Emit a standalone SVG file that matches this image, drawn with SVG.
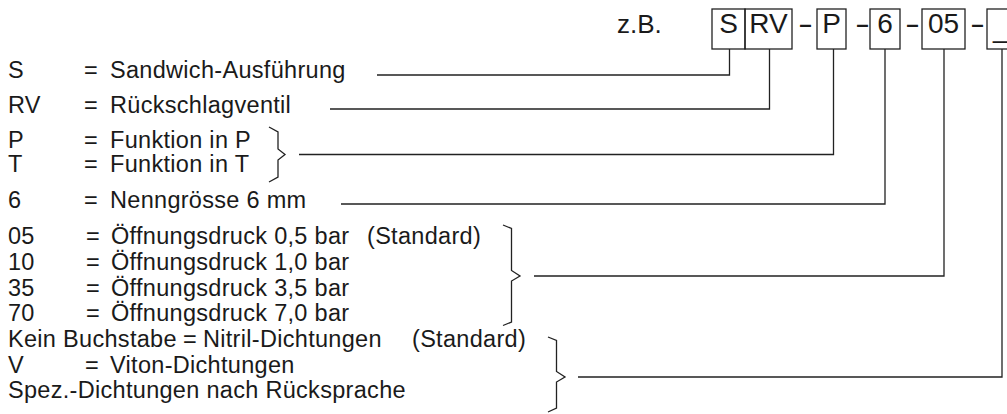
<svg xmlns="http://www.w3.org/2000/svg" width="1007" height="414" viewBox="0 0 1007 414">
<style>
  .t { font-family: "Liberation Sans", Arial, sans-serif; font-size: 23.5px; letter-spacing: 0.3px; fill: #1a1a1a; }
  .b { font-family: "Liberation Sans", Arial, sans-serif; font-size: 28px; fill: #1a1a1a; text-anchor: middle; }
  .d { font-family: "Liberation Sans", Arial, sans-serif; font-size: 28px; fill: #1a1a1a; }
  .zb { font-family: "Liberation Sans", Arial, sans-serif; font-size: 26px; fill: #1a1a1a; }
  .box { fill: none; stroke: #222; stroke-width: 1.3; }
  .ln { fill: none; stroke: #222; stroke-width: 1.3; }
</style>
<rect width="1007" height="414" fill="#fff"/>

<text class="zb" x="617" y="33">z.B.</text>

<g id="code">
  <g id="box-S"><rect class="box" x="712" y="9" width="33" height="40"/><text class="b" x="728.5" y="33">S</text></g>
  <g id="box-RV"><rect class="box" x="745" y="9" width="47" height="40"/><text class="b" x="768.5" y="33">RV</text></g>
  <text class="d" x="798" y="33" textLength="15" lengthAdjust="spacingAndGlyphs">-</text>
  <g id="box-P"><rect class="box" x="817" y="9" width="29" height="40"/><text class="b" x="831.5" y="33">P</text></g>
  <text class="d" x="855" y="33" textLength="15" lengthAdjust="spacingAndGlyphs">-</text>
  <g id="box-6"><rect class="box" x="870" y="9" width="30" height="40"/><text class="b" x="885" y="33">6</text></g>
  <text class="d" x="905" y="33" textLength="15" lengthAdjust="spacingAndGlyphs">-</text>
  <g id="box-05"><rect class="box" x="922" y="9" width="43" height="40"/><text class="b" x="943.5" y="33">05</text></g>
  <text class="d" x="970" y="33" textLength="15" lengthAdjust="spacingAndGlyphs">-</text>
  <g id="box-seal"><rect class="box" x="987" y="9" width="30" height="40"/><text class="d" x="993" y="37">_</text></g>
</g>

<g id="legend-S"><text class="t" y="78"><tspan x="8">S</tspan><tspan x="84">=</tspan><tspan x="110">Sandwich-Ausführung</tspan></text></g>
<g id="legend-RV"><text class="t" y="113"><tspan x="8">RV</tspan><tspan x="84">=</tspan><tspan x="110">Rückschlagventil</tspan></text></g>
<g id="legend-PT">
  <text class="t" y="148"><tspan x="8">P</tspan><tspan x="84">=</tspan><tspan x="110">Funktion in P</tspan></text>
  <text class="t" y="172"><tspan x="8">T</tspan><tspan x="84">=</tspan><tspan x="110">Funktion in T</tspan></text>
</g>
<g id="legend-6"><text class="t" y="208"><tspan x="8">6</tspan><tspan x="84">=</tspan><tspan x="110">Nenngrösse 6 mm</tspan></text></g>
<g id="legend-05">
  <text class="t" y="244"><tspan x="8">05</tspan><tspan x="86">=</tspan><tspan x="111">Öffnungsdruck 0,5 bar</tspan><tspan x="367">(Standard)</tspan></text>
  <text class="t" y="270"><tspan x="8">10</tspan><tspan x="86">=</tspan><tspan x="111">Öffnungsdruck 1,0 bar</tspan></text>
  <text class="t" y="296"><tspan x="8">35</tspan><tspan x="86">=</tspan><tspan x="111">Öffnungsdruck 3,5 bar</tspan></text>
  <text class="t" y="321"><tspan x="8">70</tspan><tspan x="86">=</tspan><tspan x="111">Öffnungsdruck 7,0 bar</tspan></text>
</g>
<g id="legend-seal">
  <text class="t" y="347"><tspan x="8">Kein Buchstabe</tspan><tspan x="183">=</tspan><tspan x="203">Nitril-Dichtungen</tspan><tspan x="412">(Standard)</tspan></text>
  <text class="t" y="373"><tspan x="8">V</tspan><tspan x="85">=</tspan><tspan x="110">Viton-Dichtungen</tspan></text>
  <text class="t" y="398"><tspan x="8">Spez.-Dichtungen nach Rücksprache</tspan></text>
</g>

<g id="connectors">
  <path class="ln" d="M377,75 H729.5 V49"/>
  <path class="ln" d="M330,109 H769.5 V49"/>
  <path class="ln" d="M269,127 L278,132 V149 L285,154.5 L278,160 V177 L269,182"/>
  <path class="ln" d="M299,154.5 H833.5 V49"/>
  <path class="ln" d="M341,204 H885 V49"/>
  <path class="ln" d="M503,225 L511.5,228.5 V270.5 L520,276 L511.5,281 V322 L503,325.5"/>
  <path class="ln" d="M534,276 H944 V49"/>
  <path class="ln" d="M548,337 L556.5,340.5 V371.5 L565,377 L556.5,382 V408 L548,412"/>
  <path class="ln" d="M578,377 H1002 V49"/>
</g>
</svg>
